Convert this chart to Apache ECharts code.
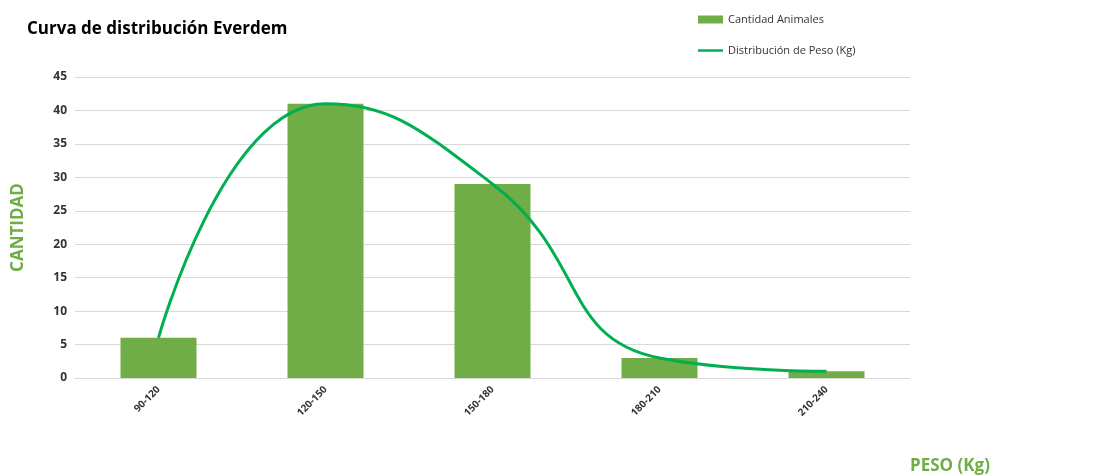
<!DOCTYPE html><html><head><meta charset="utf-8">
<script src="https://cdn.jsdelivr.net/npm/echarts@6/dist/echarts.min.js"></script>
<style>html,body{margin:0;padding:0;background:#fff}#c{width:1093px;height:475px}</style></head>
<body><div id="c"></div><script>
const categories=['90-120','120-150','150-180','180-210','210-240'];
const cantidad=[6,41,29,3,1];
const distribucion=[6,41,29,3,1];
const yTicks=[0,5,10,15,20,25,30,35,40,45];
const ch=echarts.init(document.getElementById('c'));
ch.setOption({
 animation:false,
 textStyle:{fontFamily:'Open Sans, Calibri, sans-serif'},
 title:{text:'Curva de distribución Everdem',left:22,top:16,textStyle:{fontSize:17,fontWeight:'bold',color:'#000'}},
 legend:{orient:'vertical',left:693,top:9,itemGap:20,itemWidth:25,itemHeight:8,textStyle:{fontSize:11,color:'#333'},
  data:[{name:'Cantidad Animales',icon:'rect'},{name:'Distribución de Peso (Kg)',icon:'path://M0,0H10V1H0Z'}]},
 grid:{left:75,right:183,top:77,bottom:89,containLabel:false},
 xAxis:{type:'category',data:categories,axisTick:{show:false},axisLine:{lineStyle:{color:'#d9d9d9'}},
  axisLabel:{rotate:45,fontSize:10,fontWeight:'bold',color:'#333',margin:10},
  name:'PESO (Kg)',nameLocation:'end',nameGap:0,nameTextStyle:{color:'#70ad47',fontSize:17,fontWeight:'bold',padding:[80,0,0,0],align:'left',verticalAlign:'top'}},
 yAxis:{type:'value',min:0,max:45,interval:5,axisLine:{show:false},axisTick:{show:false},
  axisLabel:{fontSize:12,fontWeight:'bold',color:'#333'},splitLine:{lineStyle:{color:'#d9d9d9'}},
  name:'CANTIDAD',nameLocation:'middle',nameGap:48,nameTextStyle:{color:'#70ad47',fontSize:17,fontWeight:'bold'}},
 series:[
  {name:'Cantidad Animales',type:'bar',data:cantidad,barWidth:76,itemStyle:{color:'#70ad47'}},
  {name:'Distribución de Peso (Kg)',type:'line',data:distribucion,smooth:0.5,showSymbol:false,lineStyle:{color:'#00b050',width:3},itemStyle:{color:'#00b050'}}
 ]
});
</script></body></html>
